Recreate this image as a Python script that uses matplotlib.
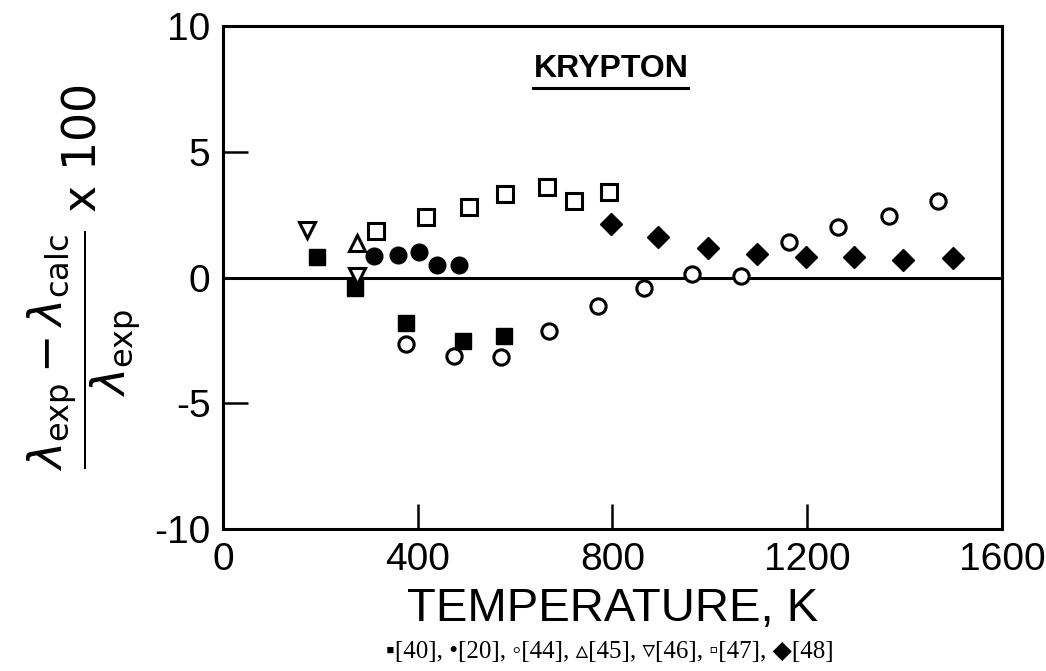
"""
Krypton thermal conductivity: percentage deviation of experimental data from the
correlation, 100*(lam_exp - lam_calc)/lam_exp, versus temperature.
Values read off the published figure; one list pair per data source.
"""
import matplotlib
matplotlib.use("Agg")
import matplotlib.pyplot as plt
from matplotlib.lines import Line2D

plt.rcParams["axes.unicode_minus"] = False
plt.rcParams["mathtext.fontset"] = "dejavusans"

LETTER = ["Liberation Sans", "DejaVu Sans"]

# [40] filled squares
T_40 = [193, 271, 376, 493, 577]
D_40 = [0.82, -0.42, -1.81, -2.52, -2.32]
# [20] filled circles
T_20 = [310, 359, 403, 440, 485]
D_20 = [0.85, 0.89, 1.01, 0.50, 0.50]
# [44] open circles
T_44 = [376, 474, 571, 670, 770, 865, 963, 1064, 1162, 1263, 1368, 1468]
D_44 = [-2.64, -3.12, -3.16, -2.13, -1.13, -0.42, 0.14, 0.06, 1.41, 2.01, 2.45, 3.04]
# [45] open triangle
T_45 = [275]
D_45 = [1.37]
# [46] open inverted triangles
T_46 = [173, 275]
D_46 = [1.89, 0.06]
# [47] open squares
T_47 = [314, 417, 506, 579, 665, 721, 793]
D_47 = [1.85, 2.41, 2.82, 3.32, 3.60, 3.04, 3.40]
# [48] filled diamonds
T_48 = [797, 893, 996, 1097, 1197, 1296, 1397, 1499]
D_48 = [2.13, 1.61, 1.17, 0.93, 0.82, 0.82, 0.70, 0.78]

X_TICKS = [0, 400, 800, 1200, 1600]
Y_TICKS = [-10, -5, 0, 5, 10]
CAPTION = "\u25aa[40], \u2022[20], \u25e6[44], \u25b5[45], \u25bf[46], \u25ab[47], \u25c6[48]"


def main():
    fig = plt.figure(figsize=(10.46, 6.71), dpi=100)
    ax = fig.add_axes([0.2132, 0.2116, 0.7447, 0.7496])

    filled = dict(ls="none", color="k", mec="k")
    hollow = dict(ls="none", mfc="white", mec="k", mew=2.2)
    ax.plot(T_40, D_40, marker="s", ms=11, **filled)
    ax.plot(T_20, D_20, marker="o", ms=12, **filled)
    ax.plot(T_44, D_44, marker="o", ms=11, **hollow)
    ax.plot(T_45, D_45, marker="^", ms=12, **hollow)
    ax.plot(T_46, D_46, marker="v", ms=12, **hollow)
    ax.plot(T_47, D_47, marker="s", ms=11, **hollow)
    ax.plot(T_48, D_48, marker="D", ms=11, **filled)

    ax.axhline(0, color="k", lw=2.2, zorder=1)
    ax.set_xlim(0, 1600); ax.set_ylim(-10, 10)
    ax.set_xticks(X_TICKS); ax.set_yticks(Y_TICKS)
    ax.set_xticklabels([str(t) for t in X_TICKS], family=LETTER, fontsize=28)
    ax.set_yticklabels([str(t) for t in Y_TICKS], family=LETTER, fontsize=28)
    ax.tick_params(direction="in", length=18, width=1.8, pad=9,
                   top=False, right=False)
    for s in ax.spines.values():
        s.set_linewidth(2.2)

    ax.set_xlabel("TEMPERATURE, K", family=LETTER, fontsize=34, labelpad=7)
    ax.set_ylabel(r"$\dfrac{\lambda_{\mathrm{exp}} - \lambda_{\mathrm{calc}}}"
                  r"{\lambda_{\mathrm{exp}}}$ x 100", fontsize=33, labelpad=8)

    title = ax.text(0.498, 0.915, "KRYPTON", transform=ax.transAxes,
                    ha="center", va="center", fontsize=23, fontweight="bold",
                    family=["Liberation Sans", "DejaVu Sans"])
    fig.text(0.583, 0.028, CAPTION, ha="center", va="center", fontsize=18,
             family=["Liberation Serif", "DejaVu Sans"])

    # underline under the title, placed from its rendered extent
    fig.canvas.draw()
    bb = title.get_window_extent().transformed(fig.transFigure.inverted())
    y_ul = bb.y0 - 4.0 / fig.bbox.height
    fig.add_artist(Line2D([bb.x0, bb.x1], [y_ul, y_ul], color="k", lw=2.2,
                          transform=fig.transFigure))

    fig.savefig("out.png", dpi=100)


if __name__ == "__main__":
    main()
